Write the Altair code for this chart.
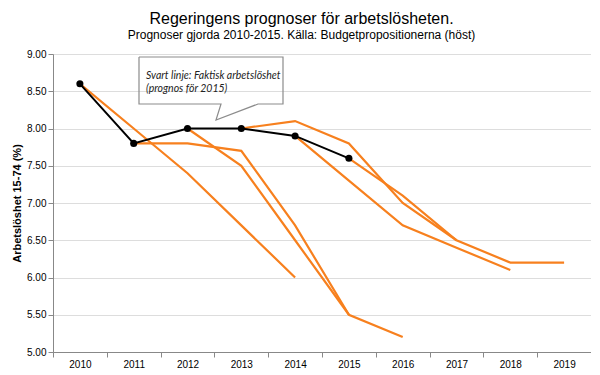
import altair as alt
import pandas as pd

# ---- data ----
years = [2010, 2011, 2012, 2013, 2014, 2015, 2016, 2017, 2018, 2019]

actual_years = [2010, 2011, 2012, 2013, 2014, 2015]
actual_values = [8.6, 7.8, 8.0, 8.0, 7.9, 7.6]

forecast_starts = [2010, 2011, 2012, 2013, 2014, 2015]
forecast_2010 = [8.6, 8.0, 7.4, 6.7, 6.0]
forecast_2011 = [7.8, 7.8, 7.7, 6.7, 5.5]
forecast_2012 = [8.0, 7.5, 6.5, 5.5, 5.2]
forecast_2013 = [8.0, 8.1, 7.8, 7.0, 6.5]
forecast_2014 = [7.9, 7.3, 6.7, 6.4, 6.1]
forecast_2015 = [7.6, 7.1, 6.5, 6.2, 6.2]
forecast_lists = [forecast_2010, forecast_2011, forecast_2012,
                  forecast_2013, forecast_2014, forecast_2015]

y_ticks = [5.0, 5.5, 6.0, 6.5, 7.0, 7.5, 8.0, 8.5, 9.0]

callout_lines = ["Svart linje: Faktisk arbetslöshet", "(prognos för 2015)"]

# ---- tables ----
rows = []
for start, vals in zip(forecast_starts, forecast_lists):
    for i, v in enumerate(vals):
        rows.append({"year": start + i, "value": v, "prognos": str(start)})
forecast_df = pd.DataFrame(rows)
actual_df = pd.DataFrame({"year": actual_years, "value": actual_values})

# callout outline (annotation, pixel coordinates inside the plot area)
callout_df = pd.DataFrame({
    "px": [86, 230, 230, 205, 163, 168, 86, 86],
    "py": [3, 3, 50, 50, 66, 50, 50, 3],
    "o": list(range(8)),
})

ORANGE = "#F7801E"
AXIS_GREY = "#8a8a8a"

x_enc = alt.X(
    "year:O",
    scale=alt.Scale(type="band", domain=years, paddingInner=0, paddingOuter=0),
    axis=alt.Axis(title=None, labelAngle=0, tickBand="extent"),
)
y_enc = alt.Y(
    "value:Q",
    scale=alt.Scale(domain=[5, 9], nice=False, zero=False),
    axis=alt.Axis(title="Arbetslöshet 15-74 (%)", values=y_ticks, format=".2f",
                  titlePadding=4),
)

forecast_layer = alt.Chart(forecast_df).mark_line(
    color=ORANGE, strokeWidth=2.2, strokeJoin="miter"
).encode(x=x_enc, y=y_enc, detail="prognos:N")

actual_line = alt.Chart(actual_df).mark_line(
    color="black", strokeWidth=2
).encode(x=x_enc, y=y_enc)

actual_points = alt.Chart(actual_df).mark_circle(
    color="black", opacity=1, size=50
).encode(x=x_enc, y=y_enc)

callout_shape = alt.Chart(callout_df).mark_line(
    color="#8c8c8c", strokeWidth=1.2
).encode(
    x=alt.X("px:Q", scale=None, axis=None),
    y=alt.Y("py:Q", scale=None, axis=None),
    order="o:Q",
)

text_style = dict(align="left", baseline="middle", font="Lato",
                  fontStyle="italic", fontSize=10.5, color="#222222")
callout_text1 = alt.Chart(alt.Data(values=[{}])).mark_text(**text_style).encode(
    x=alt.value(93), y=alt.value(22), text=alt.value(callout_lines[0]))
callout_text2 = alt.Chart(alt.Data(values=[{}])).mark_text(**text_style).encode(
    x=alt.value(93), y=alt.value(35), text=alt.value(callout_lines[1]))

chart = alt.layer(
    forecast_layer, actual_line, actual_points,
    callout_shape, callout_text1, callout_text2,
).properties(
    width=538,
    height=298,
    autosize=alt.AutoSizeParams(type="none"),
    padding={"left": 45, "top": 46, "right": 0, "bottom": 21},
    title=alt.TitleParams(
        text="Regeringens prognoser för arbetslösheten.",
        subtitle="Prognoser gjorda 2010-2015. Källa: Budgetpropositionerna (höst)",
        anchor="middle", frame="bounds",
        font="Liberation Sans", fontSize=16, fontWeight="normal", color="black",
        subtitleFont="Liberation Sans", subtitleFontSize=12, subtitleColor="black",
        subtitlePadding=3, offset=8,
    ),
).configure_view(stroke=None).configure_axis(
    grid=False,
    domainColor=AXIS_GREY, tickColor=AXIS_GREY, tickSize=5,
    labelFont="Lato", labelFontWeight="bold", labelFontSize=10, labelColor="black",
    labelPadding=3,
    titleFont="Lato", titleFontWeight="bold", titleFontSize=10, titleColor="black",
).configure(background="white")

chart.save("out.html", embed_options={"renderer": "svg", "actions": False})
